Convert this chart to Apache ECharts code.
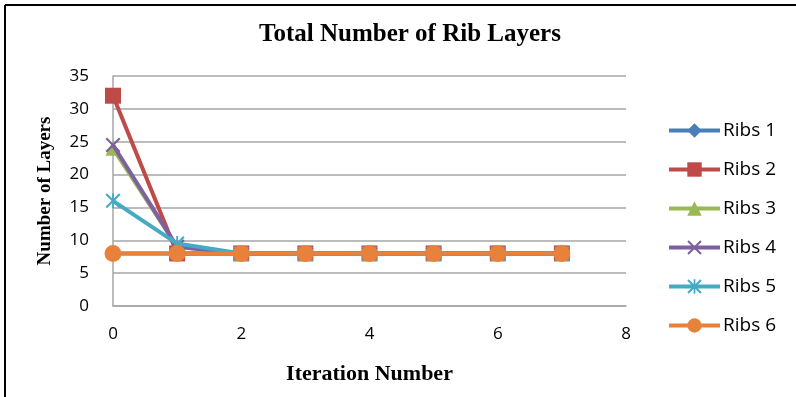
<!DOCTYPE html>
<html><head><meta charset="utf-8">
<script src="https://cdn.jsdelivr.net/npm/echarts@6/dist/echarts.min.js"></script>
<style>html,body{margin:0;padding:0;background:#fff}#c{width:796px;height:397px}</style>
</head><body><div id="c"></div>
<script>
const iterations = [0, 1, 2, 3, 4, 5, 6, 7];
const seriesNames = ['Ribs 1', 'Ribs 2', 'Ribs 3', 'Ribs 4', 'Ribs 5', 'Ribs 6'];
const ribs1 = [8, 8, 8, 8, 8, 8, 8, 8];
const ribs2 = [32, 8, 8, 8, 8, 8, 8, 8];
const ribs3 = [24, 9, 8, 8, 8, 8, 8, 8];
const ribs4 = [24.5, 9, 8, 8, 8, 8, 8, 8];
const ribs5 = [16, 9.5, 8, 8, 8, 8, 8, 8];
const ribs6 = [8, 8, 8, 8, 8, 8, 8, 8];
const xTicks = [0, 2, 4, 6, 8];
const yTicks = [0, 5, 10, 15, 20, 25, 30, 35];

const values = [ribs1, ribs2, ribs3, ribs4, ribs5, ribs6];
const colors = ['#4a7ebb', '#be4b48', '#98b954', '#7d60a0', '#46aac5', '#e8823a'];
const xPath = 'path://M0,1L1,0L5,4L9,0L10,1L6,5L10,9L9,10L5,6L1,10L0,9L4,5Z';
const starPath = 'path://M0,1L1,0L5,4L9,0L10,1L6,5L10,9L9,10L5,6L1,10L0,9L4,5ZM4.4,0L5.6,0L5.6,10L4.4,10Z';
const symbols = ['diamond', 'rect', 'triangle', xPath, starPath, 'circle'];
const sizes = [14, 16, 15, 15, 15, 17];

const chart = echarts.init(document.getElementById('c'), null, {renderer: 'canvas'});
const serif = '"Liberation Serif", "DejaVu Serif", serif';
const sans = '"Open Sans", "Liberation Sans", sans-serif';

chart.setOption({
  animation: false,
  backgroundColor: '#fff',
  title: {
    text: 'Total Number of Rib Layers',
    left: 405, top: 17, textAlign: 'center',
    textStyle: {fontFamily: serif, fontWeight: 'bold', fontSize: 25, color: '#000'}
  },
  graphic: [
    {type: 'line', shape: {x1: 5, y1: 5, x2: 796, y2: 5}, style: {stroke: '#000', lineWidth: 2}},
    {type: 'line', shape: {x1: 5, y1: 5, x2: 5, y2: 397}, style: {stroke: '#000', lineWidth: 2}}
  ],
  legend: {
    orient: 'vertical', left: 667, top: 121, padding: 0,
    itemWidth: 51, itemHeight: 18, itemGap: 20,
    data: seriesNames,
    lineStyle: {width: 4},
    textStyle: {fontFamily: sans, fontSize: 19, color: '#000', padding: [0, 0, 0, -2]}
  },
  grid: {left: 113, right: 170, top: 76, bottom: 91, containLabel: false},
  xAxis: {
    type: 'value', min: xTicks[0], max: xTicks[xTicks.length - 1], interval: 2,
    name: 'Iteration Number', nameLocation: 'middle', nameGap: 57,
    nameTextStyle: {fontFamily: serif, fontWeight: 'bold', fontSize: 22, color: '#000'},
    axisLine: {show: true, lineStyle: {color: '#a6a6a6', width: 1.5}},
    axisTick: {show: false},
    splitLine: {show: false},
    axisLabel: {fontFamily: sans, fontSize: 17, color: '#000', margin: 20}
  },
  yAxis: {
    type: 'value', min: yTicks[0], max: yTicks[yTicks.length - 1], interval: 5,
    name: 'Number of Layers', nameLocation: 'middle', nameGap: 58,
    nameTextStyle: {fontFamily: serif, fontWeight: 'bold', fontSize: 19, color: '#000'},
    axisLine: {show: true, lineStyle: {color: '#a6a6a6', width: 1.5}},
    axisTick: {show: false},
    splitLine: {show: true, lineStyle: {color: '#a6a6a6', width: 1.5}},
    axisLabel: {fontFamily: sans, fontSize: 17, color: '#000', margin: 24}
  },
  series: seriesNames.map((name, i) => ({
    name: name,
    type: 'line',
    data: iterations.map((x, j) => [x, values[i][j]]),
    symbol: symbols[i],
    symbolSize: sizes[i],
    showAllSymbol: true,
    color: colors[i],
    lineStyle: {width: 4, color: colors[i]},
    itemStyle: {color: colors[i]},
    z: 2 + i
  }))
});
</script></body></html>
